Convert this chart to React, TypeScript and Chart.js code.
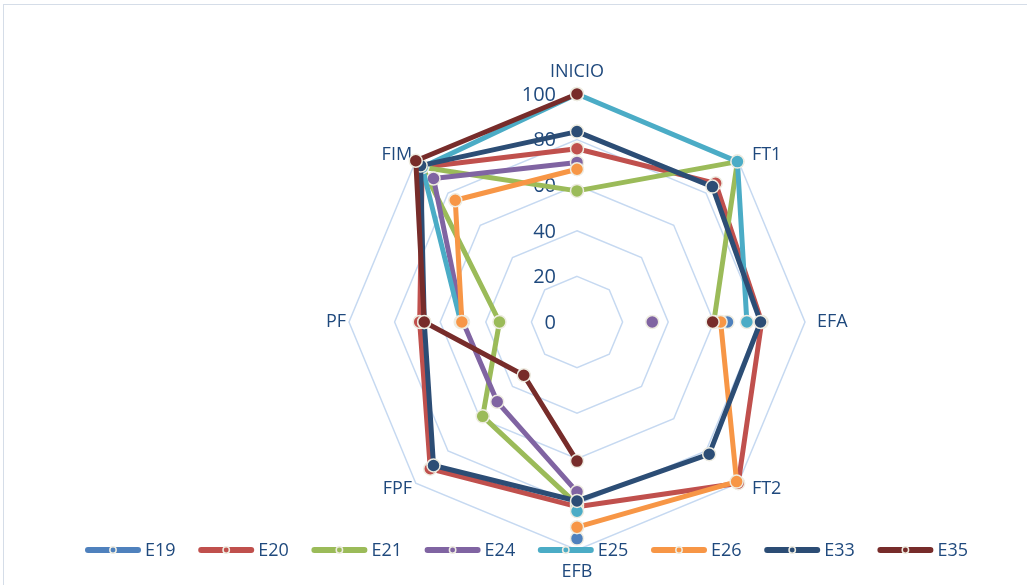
import React, { useEffect, useRef } from "react";
import { Chart, registerables } from "chart.js";

Chart.register(...registerables);

// ---- data ----
const categories = ["INICIO", "FT1", "EFA", "FT2", "EFB", "FPF", "PF", "FIM"];
const seriesNames = ["E19", "E20", "E21", "E24", "E25", "E26", "E33", "E35"];
const tickValues = [0, 20, 40, 60, 80, 100];

const E19 = [null, null, 66, null, 95, null, null, null];
const E20 = [76, 86, 81, 100, 81, 91, 69, 96];
const E21 = [57.5, 99.5, 60, null, 80, 58.5, 34, 96];
const E24 = [70, null, 33, null, 74.5, 49.5, 50, 89];
const E25 = [100, 99.5, 74.5, null, 83, null, 51, 96];
const E26 = [67, null, 63, 99, 90, null, 50.5, 75.5];
const E33 = [83.5, 84, 80.5, 82, 78.5, 89, 67, 97];
const E35 = [100, null, 59.5, null, 61, 33, 67, 100];

const seriesValues = [E19, E20, E21, E24, E25, E26, E33, E35];

// ---- styles ----
const seriesColors = ["#4F81BD", "#C0504D", "#9BBB59", "#8064A2", "#4BACC6", "#F79646", "#2C4D75", "#772C2A"];
const TEXT = "#1F497D";
const FONT = '"Open Sans", "Noto Sans", sans-serif';
const MARKER_BORDER = "#EEECE1";

const decorPlugin = {
  id: "decor",
  beforeDraw(chart: any) {
    const ctx = chart.ctx;
    ctx.save();
    ctx.fillStyle = "#ffffff";
    ctx.fillRect(0, 0, chart.width, chart.height);
    ctx.strokeStyle = "#d5dde8";
    ctx.lineWidth = 1;
    ctx.strokeRect(3.5, 4.5, chart.width + 20, chart.height + 20);
    ctx.restore();
  },
  beforeDatasetsDraw(chart: any) {
    const ctx = chart.ctx;
    const scale = chart.scales.r;
    ctx.save();
    ctx.fillStyle = TEXT;
    // tick labels
    ctx.font = `20px ${FONT}`;
    ctx.textAlign = "right";
    ctx.textBaseline = "middle";
    tickValues.forEach((v) => {
      const y = scale.yCenter - scale.getDistanceFromCenterForValue(v);
      ctx.fillText(String(v), scale.xCenter - 21, y + 1);
    });
    // point labels
    ctx.font = `18px ${FONT}`;
    const place: Array<[number, number, CanvasTextAlign]> = [
      [250, 0, "center"],
      [236, 8, "left"],
      [240, 0, "left"],
      [236, 8, "left"],
      [250, 0, "center"],
      [236, 2, "right"],
      [231, 0, "right"],
      [236, 2, "right"],
    ];
    categories.forEach((c, i) => {
      const [d, dx, align] = place[i];
      const p = scale.getPointPosition(i, d);
      ctx.textAlign = align;
      ctx.fillText(c, p.x + dx, p.y);
    });
    ctx.restore();
  },
  afterDraw(chart: any) {
    const ctx = chart.ctx;
    ctx.save();
    const y = 550;
    const x0 = 85;
    const step = 113.2;
    const len = 56;
    ctx.font = `18px ${FONT}`;
    ctx.textAlign = "left";
    ctx.textBaseline = "middle";
    seriesNames.forEach((name, i) => {
      const x = x0 + i * step;
      ctx.strokeStyle = seriesColors[i];
      ctx.lineWidth = 6;
      ctx.lineCap = "round";
      ctx.beginPath();
      ctx.moveTo(x + 3, y);
      ctx.lineTo(x + len - 3, y);
      ctx.stroke();
      ctx.beginPath();
      ctx.arc(x + len / 2, y, 3.2, 0, Math.PI * 2);
      ctx.fillStyle = seriesColors[i];
      ctx.fill();
      ctx.lineWidth = 1.5;
      ctx.strokeStyle = MARKER_BORDER;
      ctx.stroke();
      ctx.fillStyle = TEXT;
      ctx.fillText(name, x + len + 4, y + 1);
    });
    ctx.restore();
  },
};

export default function App() {
  const ref = useRef<HTMLCanvasElement | null>(null);
  useEffect(() => {
    if (!ref.current) return;
    const chart = new Chart(ref.current, {
      type: "radar",
      data: {
        labels: categories,
        datasets: seriesNames.map((name, i) => ({
          label: name,
          data: seriesValues[i] as any,
          borderColor: seriesColors[i],
          backgroundColor: seriesColors[i],
          pointBackgroundColor: seriesColors[i],
          pointBorderColor: MARKER_BORDER,
          pointBorderWidth: 1.5,
          pointRadius: 6.5,
          borderWidth: 5,
          borderJoinStyle: "round" as const,
          fill: false,
          spanGaps: false,
          tension: 0,
          order: seriesNames.length - 1 - i,
        })),
      },
      options: {
        animation: false,
        responsive: true,
        maintainAspectRatio: false,
        events: [],
        layout: { padding: { left: 349, right: 222, top: 94, bottom: 35 } },
        plugins: { legend: { display: false }, tooltip: { enabled: false } },
        scales: {
          r: {
            min: 0,
            max: 100,
            ticks: { display: false, stepSize: 20 },
            grid: { color: "#c6d9f1", lineWidth: 1.5, circular: false },
            angleLines: { display: false },
            pointLabels: { display: false },
          },
        },
      },
      plugins: [decorPlugin],
    });
    return () => chart.destroy();
  }, []);
  return (
    <div style={{ position: "absolute", left: 0, top: 0, width: 1027, height: 585 }}>
      <canvas ref={ref} />
    </div>
  );
}
